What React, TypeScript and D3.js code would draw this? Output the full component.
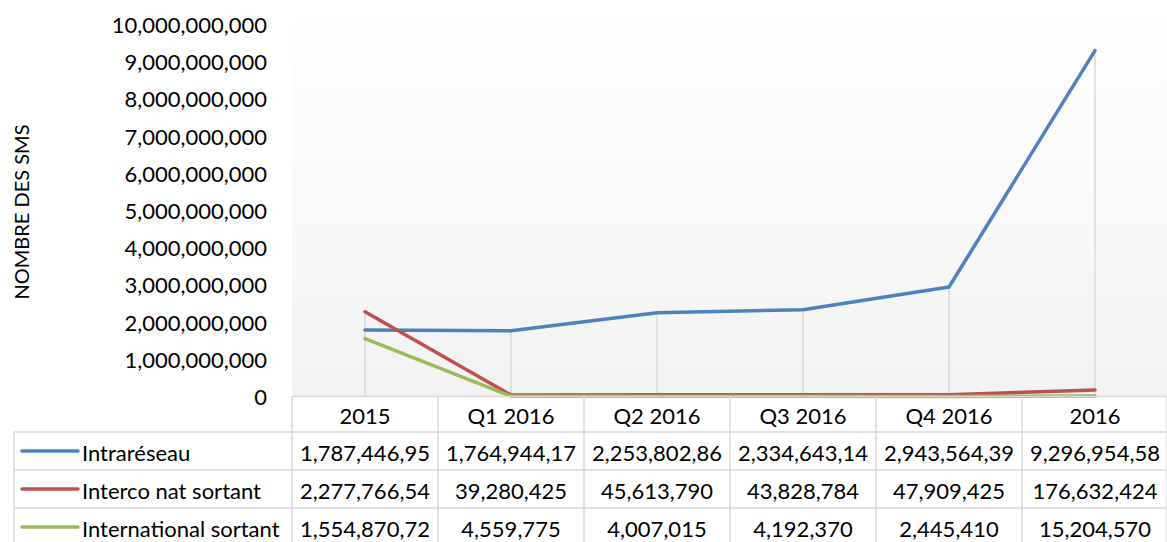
import React from 'react';
import * as d3 from 'd3';

const categories = ['2015', 'Q1 2016', 'Q2 2016', 'Q3 2016', 'Q4 2016', '2016'];
const seriesNames = ['Intraréseau', 'Interco nat sortant', 'International sortant'];
const seriesColors = ['#4f81bd', '#c0504d', '#9bbb59'];
const intraValues = [1787446950, 1764944170, 2253802860, 2334643140, 2943564390, 9296954580];
const intercoValues = [2277766540, 39280425, 45613790, 43828784, 47909425, 176632424];
const internationalValues = [1554870720, 4559775, 4007015, 4192370, 2445410, 15204570];
const intraLabels = ['1,787,446,95', '1,764,944,17', '2,253,802,86', '2,334,643,14', '2,943,564,39', '9,296,954,58'];
const intercoLabels = ['2,277,766,54', '39,280,425', '45,613,790', '43,828,784', '47,909,425', '176,632,424'];
const internationalLabels = ['1,554,870,72', '4,559,775', '4,007,015', '4,192,370', '2,445,410', '15,204,570'];
const yTicks = [0, 1e9, 2e9, 3e9, 4e9, 5e9, 6e9, 7e9, 8e9, 9e9, 1e10];
const yTitle = 'NOMBRE DES SMS';

const W = 1167;
const H = 542;
const FONT = 'Lato, "Open Sans", sans-serif';
const FS = 22;

export default function App() {
  const plotLeft = 292;
  const plotRight = 1168;
  const plotTop = 10;
  const x = d3.scaleBand<string>().domain(categories).range([plotLeft, plotRight]);
  const y = d3.scaleLinear().domain([0, 1e10]).range([396.5, 24.5]);
  const bw = x.bandwidth();
  const cx = (c: string) => (x(c) as number) + bw / 2;
  const allValues = [intraValues, intercoValues, internationalValues];
  const allLabels = [intraLabels, intercoLabels, internationalLabels];
  const fmt = d3.format(',');
  const line = d3
    .line<number>()
    .x((_, i) => cx(categories[i]))
    .y((d) => y(d));

  const axisY = y(0);
  const headerBottom = 432;
  const rowH = 38;
  const rowTops = [headerBottom, headerBottom + rowH, headerBottom + 2 * rowH];
  const tableLeft = 14;
  const grid = '#d9d9d9';

  return (
    <svg
      width={W}
      height={H}
      style={{ position: 'absolute', left: 0, top: 0, background: '#fff' }}
      fontFamily={FONT}
    >
      <defs>
        <linearGradient id="plotBg" x1="0" y1="0" x2="0" y2="1">
          <stop offset="0" stopColor="#ffffff" />
          <stop offset="1" stopColor="#f2f2f2" />
        </linearGradient>
      </defs>
      <rect x={plotLeft} y={plotTop} width={plotRight - plotLeft} height={axisY - plotTop} fill="url(#plotBg)" />

      {/* y tick labels */}
      {yTicks.map((t) => (
        <text key={t} x={267} y={y(t)} textAnchor="end" dominantBaseline="central" fontSize={FS} fill="#000">
          {fmt(t)}
        </text>
      ))}
      <text
        transform={`translate(21,${212}) rotate(-90)`}
        textAnchor="middle"
        dominantBaseline="central"
        fontSize={20}
        fill="#000"
      >
        {yTitle}
      </text>

      {/* drop lines */}
      {categories.map((c, i) => {
        const maxV = d3.max(allValues, (s) => s[i]) as number;
        return <line key={c} x1={cx(c)} x2={cx(c)} y1={y(maxV)} y2={axisY} stroke={grid} strokeWidth={1.5} />;
      })}

      {/* series lines */}
      {allValues.map((vals, si) => (
        <path
          key={si}
          d={line(vals) as string}
          fill="none"
          stroke={seriesColors[si]}
          strokeWidth={3.5}
          strokeLinejoin="round"
          strokeLinecap="round"
        />
      ))}

      {/* data table */}
      <line x1={plotLeft} x2={plotRight} y1={axisY} y2={axisY} stroke={grid} strokeWidth={1.5} />
      {categories.map((c) => (
        <text key={c} x={cx(c)} y={(axisY + headerBottom) / 2 + 1} textAnchor="middle" dominantBaseline="central" fontSize={FS} fill="#000">
          {c}
        </text>
      ))}
      {rowTops.map((ty, i) => (
        <line key={i} x1={tableLeft} x2={plotRight} y1={ty} y2={ty} stroke={grid} strokeWidth={1.5} />
      ))}
      <line x1={tableLeft} x2={plotRight} y1={headerBottom + 3 * rowH} y2={headerBottom + 3 * rowH} stroke={grid} strokeWidth={1.5} />
      <line x1={tableLeft} x2={tableLeft} y1={headerBottom} y2={H + 10} stroke={grid} strokeWidth={1.5} />
      {[...categories.map((c) => x(c) as number), plotRight - 1].map((vx, i) => (
        <line key={i} x1={vx} x2={vx} y1={axisY} y2={H + 10} stroke={grid} strokeWidth={1.5} />
      ))}
      {seriesNames.map((name, si) => {
        const midY = rowTops[si] + rowH / 2;
        return (
          <g key={name}>
            <line x1={22} x2={78} y1={midY} y2={midY} stroke={seriesColors[si]} strokeWidth={3.5} strokeLinecap="round" />
            <text x={82} y={midY + 1} dominantBaseline="central" fontSize={FS} fill="#000">
              {name}
            </text>
            {allLabels[si].map((lab, ci) => (
              <text
                key={ci}
                x={cx(categories[ci])}
                y={midY + 1}
                textAnchor="middle"
                dominantBaseline="central"
                fontSize={FS}
                fill="#000"
              >
                {lab}
              </text>
            ))}
          </g>
        );
      })}
    </svg>
  );
}
